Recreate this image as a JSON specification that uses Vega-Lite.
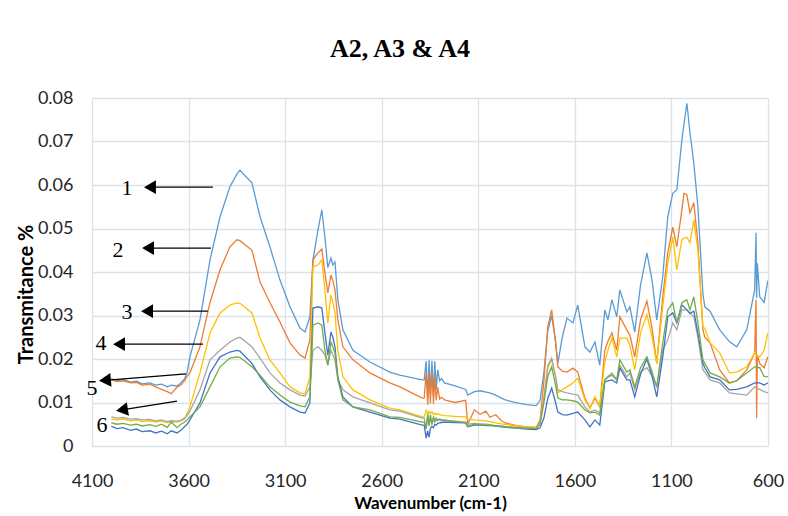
{
  "$schema": "https://vega.github.io/schema/vega-lite/v6.json",
  "width": 676,
  "height": 348,
  "autosize": "none",
  "padding": {"left": 92, "top": 98, "right": 20, "bottom": 70},
  "background": "white",
  "title": {"text": "A2, A3 & A4", "font": "Liberation Serif", "fontSize": 26, "fontWeight": "bold", "color": "#000000", "anchor": "middle", "dx": -30, "offset": 27},
  "datasets": {
    "spec": [
      {"w":4000,"s1":0.0155,"s2":0.0153,"s3":0.0062,"s4":0.0067,"s5":0.0045,"s6":0.0053},
      {"w":3970,"s1":0.0150,"s2":0.0148,"s3":0.0060,"s4":0.0064,"s5":0.0040,"s6":0.0050},
      {"w":3940,"s1":0.0153,"s2":0.0150,"s3":0.0062,"s4":0.0066,"s5":0.0042,"s6":0.0052},
      {"w":3900,"s1":0.0147,"s2":0.0145,"s3":0.0058,"s4":0.0062,"s5":0.0036,"s6":0.0048},
      {"w":3870,"s1":0.0149,"s2":0.0146,"s3":0.0060,"s4":0.0063,"s5":0.0039,"s6":0.0050},
      {"w":3840,"s1":0.0143,"s2":0.0140,"s3":0.0056,"s4":0.0060,"s5":0.0033,"s6":0.0046},
      {"w":3800,"s1":0.0145,"s2":0.0142,"s3":0.0058,"s4":0.0061,"s5":0.0035,"s6":0.0049},
      {"w":3770,"s1":0.0140,"s2":0.0136,"s3":0.0055,"s4":0.0058,"s5":0.0030,"s6":0.0045},
      {"w":3740,"s1":0.0142,"s2":0.0130,"s3":0.0057,"s4":0.0060,"s5":0.0034,"s6":0.0050},
      {"w":3710,"s1":0.0136,"s2":0.0125,"s3":0.0054,"s4":0.0056,"s5":0.0028,"s6":0.0043},
      {"w":3690,"s1":0.0140,"s2":0.0120,"s3":0.0056,"s4":0.0058,"s5":0.0035,"s6":0.0055},
      {"w":3660,"s1":0.0138,"s2":0.0135,"s3":0.0055,"s4":0.0057,"s5":0.0030,"s6":0.0042},
      {"w":3640,"s1":0.0145,"s2":0.0140,"s3":0.0058,"s4":0.0059,"s5":0.0036,"s6":0.0050},
      {"w":3620,"s1":0.0155,"s2":0.0150,"s3":0.0062,"s4":0.0065,"s5":0.0045,"s6":0.0055},
      {"w":3608,"s1":0.0168,"s2":0.0160,"s3":0.0075,"s4":0.0070,"s5":0.0050,"s6":0.0060},
      {"w":3593,"s1":0.0205,"s2":0.0168,"s3":0.0090,"s4":0.0080,"s5":0.0060,"s6":0.0067},
      {"w":3541,"s1":0.0290,"s2":0.0228,"s3":0.0168,"s4":0.0129,"s5":0.0099,"s6":0.0090},
      {"w":3489,"s1":0.0428,"s2":0.0330,"s3":0.0260,"s4":0.0198,"s5":0.0168,"s6":0.0136},
      {"w":3437,"s1":0.0527,"s2":0.0405,"s3":0.0306,"s4":0.0220,"s5":0.0205,"s6":0.0182},
      {"w":3386,"s1":0.0596,"s2":0.0458,"s3":0.0324,"s4":0.0239,"s5":0.0216,"s6":0.0202},
      {"w":3350,"s1":0.0625,"s2":0.0474,"s3":0.0329,"s4":0.0248,"s5":0.0220,"s6":0.0205},
      {"w":3334,"s1":0.0634,"s2":0.0472,"s3":0.0328,"s4":0.0250,"s5":0.0218,"s6":0.0204},
      {"w":3272,"s1":0.0605,"s2":0.0450,"s3":0.0306,"s4":0.0228,"s5":0.0190,"s6":0.0182},
      {"w":3230,"s1":0.0527,"s2":0.0377,"s3":0.0248,"s4":0.0202,"s5":0.0159,"s6":0.0163},
      {"w":3179,"s1":0.0458,"s2":0.0330,"s3":0.0198,"s4":0.0168,"s5":0.0129,"s6":0.0136},
      {"w":3127,"s1":0.0382,"s2":0.0285,"s3":0.0168,"s4":0.0145,"s5":0.0106,"s6":0.0117},
      {"w":3075,"s1":0.0320,"s2":0.0237,"s3":0.0136,"s4":0.0129,"s5":0.0090,"s6":0.0101},
      {"w":3023,"s1":0.0271,"s2":0.0209,"s3":0.0122,"s4":0.0117,"s5":0.0078,"s6":0.0092},
      {"w":2997,"s1":0.0262,"s2":0.0202,"s3":0.0120,"s4":0.0115,"s5":0.0076,"s6":0.0090},
      {"w":2972,"s1":0.0297,"s2":0.0244,"s3":0.0159,"s4":0.0136,"s5":0.0099,"s6":0.0113},
      {"w":2956,"s1":0.0428,"s2":0.0428,"s3":0.0412,"s4":0.0220,"s5":0.0317,"s6":0.0278},
      {"w":2930,"s1":0.0497,"s2":0.0444,"s3":0.0416,"s4":0.0228,"s5":0.0320,"s6":0.0283},
      {"w":2910,"s1":0.0543,"s2":0.0453,"s3":0.0428,"s4":0.0220,"s5":0.0317,"s6":0.0278},
      {"w":2894,"s1":0.0480,"s2":0.0398,"s3":0.0359,"s4":0.0209,"s5":0.0260,"s6":0.0220},
      {"w":2879,"s1":0.0410,"s2":0.0352,"s3":0.0283,"s4":0.0186,"s5":0.0209,"s6":0.0186},
      {"w":2863,"s1":0.0432,"s2":0.0393,"s3":0.0347,"s4":0.0220,"s5":0.0262,"s6":0.0239},
      {"w":2853,"s1":0.0416,"s2":0.0380,"s3":0.0330,"s4":0.0210,"s5":0.0250,"s6":0.0228},
      {"w":2842,"s1":0.0423,"s2":0.0359,"s3":0.0306,"s4":0.0198,"s5":0.0228,"s6":0.0214},
      {"w":2827,"s1":0.0336,"s2":0.0290,"s3":0.0220,"s4":0.0152,"s5":0.0159,"s6":0.0152},
      {"w":2801,"s1":0.0267,"s2":0.0228,"s3":0.0159,"s4":0.0129,"s5":0.0113,"s6":0.0106},
      {"w":2749,"s1":0.0220,"s2":0.0198,"s3":0.0129,"s4":0.0113,"s5":0.0090,"s6":0.0090},
      {"w":2661,"s1":0.0193,"s2":0.0168,"s3":0.0106,"s4":0.0099,"s5":0.0078,"s6":0.0083},
      {"w":2558,"s1":0.0170,"s2":0.0145,"s3":0.0087,"s4":0.0083,"s5":0.0064,"s6":0.0067},
      {"w":2506,"s1":0.0163,"s2":0.0136,"s3":0.0083,"s4":0.0080,"s5":0.0062,"s6":0.0066},
      {"w":2390,"s1":0.0152,"s2":0.0110,"s3":0.0067,"s4":0.0064,"s5":0.0048,"s6":0.0055},
      {"w":2380,"s1":0.0152,"s2":0.0110,"s3":0.0067,"s4":0.0064,"s5":0.0048,"s6":0.0055},
      {"w":2370,"s1":0.0195,"s2":0.0170,"s3":0.0082,"s4":0.0040,"s5":0.0018,"s6":0.0040},
      {"w":2362,"s1":0.0110,"s2":0.0095,"s3":0.0075,"s4":0.0068,"s5":0.0035,"s6":0.0075},
      {"w":2355,"s1":0.0198,"s2":0.0165,"s3":0.0080,"s4":0.0045,"s5":0.0020,"s6":0.0048},
      {"w":2348,"s1":0.0120,"s2":0.0098,"s3":0.0074,"s4":0.0066,"s5":0.0040,"s6":0.0072},
      {"w":2340,"s1":0.0196,"s2":0.0172,"s3":0.0079,"s4":0.0050,"s5":0.0045,"s6":0.0050},
      {"w":2332,"s1":0.0115,"s2":0.0097,"s3":0.0072,"s4":0.0062,"s5":0.0042,"s6":0.0068},
      {"w":2325,"s1":0.0195,"s2":0.0160,"s3":0.0076,"s4":0.0055,"s5":0.0050,"s6":0.0058},
      {"w":2318,"s1":0.0130,"s2":0.0105,"s3":0.0072,"s4":0.0060,"s5":0.0048,"s6":0.0064},
      {"w":2310,"s1":0.0175,"s2":0.0135,"s3":0.0074,"s4":0.0058,"s5":0.0052,"s6":0.0060},
      {"w":2300,"s1":0.0150,"s2":0.0108,"s3":0.0072,"s4":0.0060,"s5":0.0053,"s6":0.0062},
      {"w":2290,"s1":0.0155,"s2":0.0112,"s3":0.0071,"s4":0.0058,"s5":0.0054,"s6":0.0060},
      {"w":2275,"s1":0.0145,"s2":0.0106,"s3":0.0070,"s4":0.0058,"s5":0.0055,"s6":0.0060},
      {"w":2220,"s1":0.0138,"s2":0.0100,"s3":0.0068,"s4":0.0057,"s5":0.0054,"s6":0.0056},
      {"w":2165,"s1":0.0130,"s2":0.0105,"s3":0.0067,"s4":0.0055,"s5":0.0053,"s6":0.0053},
      {"w":2155,"s1":0.0117,"s2":0.0050,"s3":0.0062,"s4":0.0050,"s5":0.0044,"s6":0.0045},
      {"w":2120,"s1":0.0125,"s2":0.0083,"s3":0.0060,"s4":0.0052,"s5":0.0048,"s6":0.0050},
      {"w":2090,"s1":0.0127,"s2":0.0073,"s3":0.0059,"s4":0.0051,"s5":0.0048,"s6":0.0049},
      {"w":2060,"s1":0.0124,"s2":0.0080,"s3":0.0058,"s4":0.0050,"s5":0.0047,"s6":0.0048},
      {"w":2040,"s1":0.0122,"s2":0.0066,"s3":0.0056,"s4":0.0049,"s5":0.0047,"s6":0.0048},
      {"w":2010,"s1":0.0117,"s2":0.0072,"s3":0.0053,"s4":0.0047,"s5":0.0046,"s6":0.0046},
      {"w":1980,"s1":0.0110,"s2":0.0058,"s3":0.0051,"s4":0.0046,"s5":0.0044,"s6":0.0045},
      {"w":1960,"s1":0.0106,"s2":0.0053,"s3":0.0050,"s4":0.0045,"s5":0.0043,"s6":0.0044},
      {"w":1900,"s1":0.0099,"s2":0.0047,"s3":0.0046,"s4":0.0043,"s5":0.0041,"s6":0.0042},
      {"w":1850,"s1":0.0095,"s2":0.0044,"s3":0.0044,"s4":0.0041,"s5":0.0039,"s6":0.0041},
      {"w":1800,"s1":0.0093,"s2":0.0043,"s3":0.0043,"s4":0.0040,"s5":0.0038,"s6":0.0040},
      {"w":1780,"s1":0.0105,"s2":0.0060,"s3":0.0055,"s4":0.0055,"s5":0.0042,"s6":0.0050},
      {"w":1760,"s1":0.0170,"s2":0.0150,"s3":0.0110,"s4":0.0110,"s5":0.0065,"s6":0.0100},
      {"w":1740,"s1":0.0265,"s2":0.0275,"s3":0.0180,"s4":0.0185,"s5":0.0110,"s6":0.0160},
      {"w":1720,"s1":0.0300,"s2":0.0313,"s3":0.0198,"s4":0.0202,"s5":0.0133,"s6":0.0182},
      {"w":1700,"s1":0.0240,"s2":0.0240,"s3":0.0160,"s4":0.0160,"s5":0.0100,"s6":0.0140},
      {"w":1688,"s1":0.0190,"s2":0.0182,"s3":0.0122,"s4":0.0129,"s5":0.0078,"s6":0.0110},
      {"w":1665,"s1":0.0250,"s2":0.0172,"s3":0.0130,"s4":0.0125,"s5":0.0072,"s6":0.0106},
      {"w":1641,"s1":0.0294,"s2":0.0170,"s3":0.0136,"s4":0.0122,"s5":0.0071,"s6":0.0106},
      {"w":1610,"s1":0.0283,"s2":0.0179,"s3":0.0145,"s4":0.0119,"s5":0.0075,"s6":0.0104},
      {"w":1585,"s1":0.0324,"s2":0.0170,"s3":0.0156,"s4":0.0117,"s5":0.0078,"s6":0.0101},
      {"w":1548,"s1":0.0228,"s2":0.0110,"s3":0.0106,"s4":0.0090,"s5":0.0060,"s6":0.0083},
      {"w":1522,"s1":0.0216,"s2":0.0087,"s3":0.0087,"s4":0.0078,"s5":0.0044,"s6":0.0076},
      {"w":1496,"s1":0.0239,"s2":0.0110,"s3":0.0113,"s4":0.0083,"s5":0.0060,"s6":0.0078},
      {"w":1471,"s1":0.0186,"s2":0.0090,"s3":0.0092,"s4":0.0076,"s5":0.0048,"s6":0.0071},
      {"w":1445,"s1":0.0313,"s2":0.0220,"s3":0.0193,"s4":0.0152,"s5":0.0147,"s6":0.0152},
      {"w":1429,"s1":0.0290,"s2":0.0240,"s3":0.0220,"s4":0.0160,"s5":0.0150,"s6":0.0158},
      {"w":1408,"s1":0.0336,"s2":0.0260,"s3":0.0248,"s4":0.0168,"s5":0.0152,"s6":0.0163},
      {"w":1383,"s1":0.0297,"s2":0.0220,"s3":0.0205,"s4":0.0152,"s5":0.0145,"s6":0.0152},
      {"w":1367,"s1":0.0359,"s2":0.0297,"s3":0.0248,"s4":0.0186,"s5":0.0179,"s6":0.0198},
      {"w":1331,"s1":0.0308,"s2":0.0267,"s3":0.0248,"s4":0.0159,"s5":0.0152,"s6":0.0170},
      {"w":1315,"s1":0.0320,"s2":0.0255,"s3":0.0232,"s4":0.0168,"s5":0.0152,"s6":0.0175},
      {"w":1290,"s1":0.0262,"s2":0.0205,"s3":0.0175,"s4":0.0129,"s5":0.0113,"s6":0.0136},
      {"w":1260,"s1":0.0370,"s2":0.0290,"s3":0.0260,"s4":0.0170,"s5":0.0165,"s6":0.0180},
      {"w":1227,"s1":0.0444,"s2":0.0333,"s3":0.0302,"s4":0.0180,"s5":0.0200,"s6":0.0205},
      {"w":1200,"s1":0.0380,"s2":0.0270,"s3":0.0250,"s4":0.0160,"s5":0.0160,"s6":0.0170},
      {"w":1176,"s1":0.0290,"s2":0.0190,"s3":0.0190,"s4":0.0136,"s5":0.0113,"s6":0.0136},
      {"w":1145,"s1":0.0389,"s2":0.0343,"s3":0.0320,"s4":0.0220,"s5":0.0205,"s6":0.0237},
      {"w":1119,"s1":0.0527,"s2":0.0444,"s3":0.0420,"s4":0.0244,"s5":0.0297,"s6":0.0313},
      {"w":1093,"s1":0.0581,"s2":0.0503,"s3":0.0480,"s4":0.0283,"s5":0.0306,"s6":0.0329},
      {"w":1072,"s1":0.0589,"s2":0.0458,"s3":0.0405,"s4":0.0267,"s5":0.0283,"s6":0.0283},
      {"w":1046,"s1":0.0703,"s2":0.0543,"s3":0.0474,"s4":0.0313,"s5":0.0324,"s6":0.0329},
      {"w":1035,"s1":0.0740,"s2":0.0581,"s3":0.0478,"s4":0.0313,"s5":0.0320,"s6":0.0333},
      {"w":1020,"s1":0.0788,"s2":0.0577,"s3":0.0480,"s4":0.0313,"s5":0.0313,"s6":0.0336},
      {"w":1004,"s1":0.0720,"s2":0.0536,"s3":0.0467,"s4":0.0305,"s5":0.0305,"s6":0.0313},
      {"w":984,"s1":0.0650,"s2":0.0559,"s3":0.0520,"s4":0.0297,"s5":0.0310,"s6":0.0343},
      {"w":963,"s1":0.0550,"s2":0.0467,"s3":0.0450,"s4":0.0250,"s5":0.0260,"s6":0.0283},
      {"w":937,"s1":0.0350,"s2":0.0267,"s3":0.0274,"s4":0.0175,"s5":0.0190,"s6":0.0198},
      {"w":927,"s1":0.0320,"s2":0.0250,"s3":0.0270,"s4":0.0170,"s5":0.0180,"s6":0.0190},
      {"w":900,"s1":0.0310,"s2":0.0237,"s3":0.0237,"s4":0.0152,"s5":0.0159,"s6":0.0168},
      {"w":850,"s1":0.0267,"s2":0.0175,"s3":0.0214,"s4":0.0145,"s5":0.0152,"s6":0.0159},
      {"w":800,"s1":0.0240,"s2":0.0145,"s3":0.0168,"s4":0.0122,"s5":0.0129,"s6":0.0145},
      {"w":762,"s1":0.0228,"s2":0.0150,"s3":0.0170,"s4":0.0120,"s5":0.0130,"s6":0.0150},
      {"w":710,"s1":0.0267,"s2":0.0175,"s3":0.0182,"s4":0.0117,"s5":0.0136,"s6":0.0168},
      {"w":669,"s1":0.0359,"s2":0.0214,"s3":0.0214,"s4":0.0136,"s5":0.0145,"s6":0.0182},
      {"w":662,"s1":0.0490,"s2":0.0336,"s3":0.0210,"s4":0.0134,"s5":0.0145,"s6":0.0182},
      {"w":659,"s1":0.0340,"s2":0.0064,"s3":0.0208,"s4":0.0133,"s5":0.0145,"s6":0.0181},
      {"w":655,"s1":0.0420,"s2":0.0210,"s3":0.0206,"s4":0.0132,"s5":0.0145,"s6":0.0180},
      {"w":643,"s1":0.0343,"s2":0.0190,"s3":0.0205,"s4":0.0130,"s5":0.0145,"s6":0.0180},
      {"w":620,"s1":0.0330,"s2":0.0180,"s3":0.0220,"s4":0.0125,"s5":0.0140,"s6":0.0160},
      {"w":601,"s1":0.0380,"s2":0.0205,"s3":0.0260,"s4":0.0122,"s5":0.0145,"s6":0.0159}
    ],
    "arrows": [
      {"lab":"1","tw":3474,"tt":0.0595,"hw":3800,"ht":0.0595},
      {"lab":"2","tw":3484,"tt":0.0455,"hw":3810,"ht":0.0455},
      {"lab":"3","tw":3500,"tt":0.0310,"hw":3815,"ht":0.0310},
      {"lab":"4","tw":3525,"tt":0.0234,"hw":3960,"ht":0.0234},
      {"lab":"5","tw":3613,"tt":0.0166,"hw":4033,"ht":0.0151},
      {"lab":"6","tw":3660,"tt":0.0103,"hw":3945,"ht":0.0083}
    ],
    "labels": [
      {"lab":"1","w":3919,"t":0.0593},
      {"lab":"2","w":3965,"t":0.0451},
      {"lab":"3","w":3919,"t":0.0308},
      {"lab":"4","w":4053,"t":0.0237},
      {"lab":"5","w":4100,"t":0.0133},
      {"lab":"6","w":4048,"t":0.0048}
    ]
  },
  "layer": [
    {
      "data": {"name": "spec"},
      "transform": [{"fold": ["s1","s2","s3","s4","s5","s6"], "as": ["series","t"]}],
      "mark": {"type": "line", "strokeWidth": 1.3, "clip": true},
      "encoding": {
        "x": {"field": "w", "type": "quantitative",
              "scale": {"domain": [600, 4100], "reverse": true, "nice": false, "zero": false},
              "axis": {"values": [4100,3600,3100,2600,2100,1600,1100,600], "format": "d", "title": "Wavenumber (cm-1)"}},
        "y": {"field": "t", "type": "quantitative",
              "scale": {"domain": [0, 0.08], "nice": false},
              "axis": {"values": [0,0.01,0.02,0.03,0.04,0.05,0.06,0.07,0.08], "format": ".2~f", "title": "Transmitance %"}},
        "color": {"field": "series", "type": "nominal",
                  "scale": {"domain": ["s1","s2","s3","s4","s5","s6"], "range": ["#5B9BD5","#ED7D31","#FFC000","#A5A5A5","#4472C4","#70AD47"]},
                  "legend": null}
      }
    },
    {
      "data": {"name": "arrows"},
      "mark": {"type": "rule", "color": "#000000", "strokeWidth": 1.3},
      "encoding": {
        "x": {"field": "tw", "type": "quantitative"},
        "x2": {"field": "hw"},
        "y": {"field": "tt", "type": "quantitative"},
        "y2": {"field": "ht"}
      }
    },
    {
      "data": {"name": "arrows"},
      "transform": [{"filter": "datum.lab <= '4'"}],
      "mark": {"type": "point", "shape": "triangle-left", "filled": true, "color": "#000000", "opacity": 1, "size": 190},
      "encoding": {
        "x": {"field": "hw", "type": "quantitative"},
        "y": {"field": "ht", "type": "quantitative"}
      }
    },
    {
      "data": {"name": "arrows"},
      "transform": [{"filter": "datum.lab == '5'"}],
      "mark": {"type": "point", "shape": "triangle-left", "filled": true, "color": "#000000", "opacity": 1, "size": 190, "angle": -5},
      "encoding": {
        "x": {"field": "hw", "type": "quantitative"},
        "y": {"field": "ht", "type": "quantitative"}
      }
    },
    {
      "data": {"name": "arrows"},
      "transform": [{"filter": "datum.lab == '6'"}],
      "mark": {"type": "point", "shape": "triangle-left", "filled": true, "color": "#000000", "opacity": 1, "size": 190, "angle": -9},
      "encoding": {
        "x": {"field": "hw", "type": "quantitative"},
        "y": {"field": "ht", "type": "quantitative"}
      }
    },
    {
      "data": {"name": "labels"},
      "mark": {"type": "text", "font": "Liberation Serif", "fontSize": 22, "color": "#000000", "align": "center", "baseline": "middle"},
      "encoding": {
        "x": {"field": "w", "type": "quantitative"},
        "y": {"field": "t", "type": "quantitative"},
        "text": {"field": "lab"}
      }
    }
  ],
  "config": {
    "view": {"stroke": null},
    "axis": {
      "grid": true,
      "gridColor": "#DCE2EA",
      "gridWidth": 1.3,
      "domain": false,
      "ticks": false,
      "labelFont": "Lato",
      "labelFontSize": 18,
      "labelColor": "#262626",
      "labelFlush": false,
      "titleFont": "Lato",
      "titleFontSize": 18,
      "titleFontWeight": "bold",
      "titleColor": "#000000"
    },
    "axisX": {"labelPadding": 26, "titlePadding": 5, "titleFontSize": 17},
    "axisY": {"labelPadding": 19, "titlePadding": 1, "titleFontSize": 20, "titleY": 196}
  }
}
